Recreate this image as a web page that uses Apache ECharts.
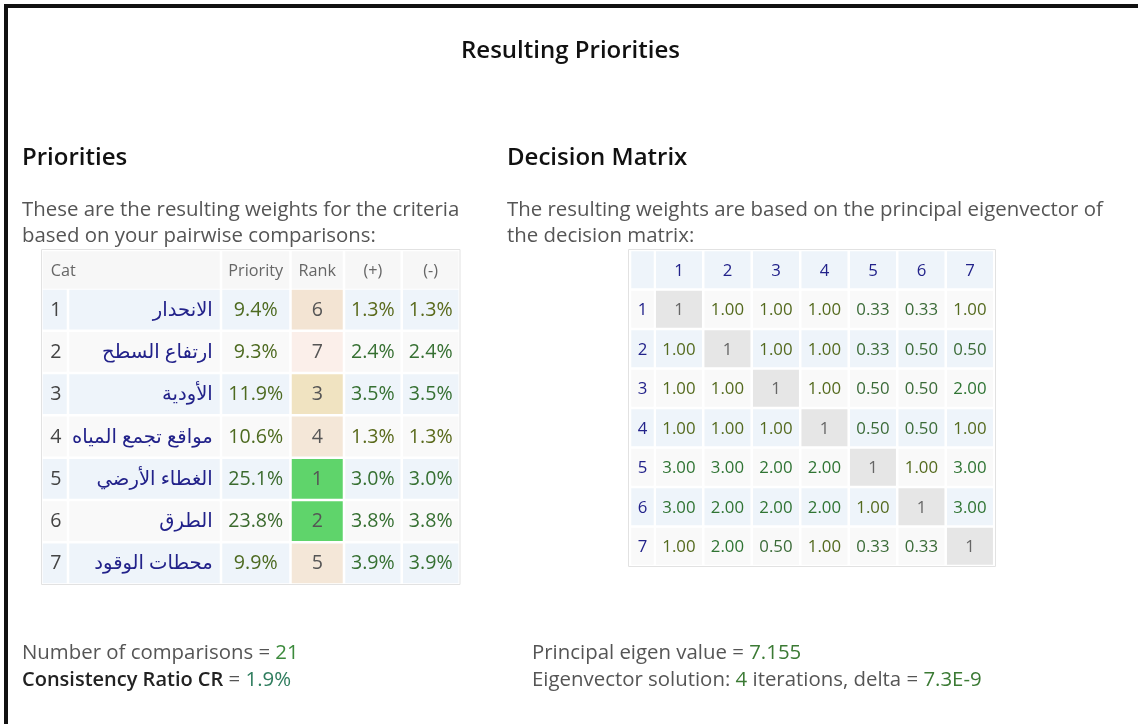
<!DOCTYPE html>
<html><head><meta charset="utf-8">
<script src="https://cdn.jsdelivr.net/npm/echarts@6/dist/echarts.min.js"></script>
<style>html,body{margin:0;padding:0;background:#fff}#c{width:1138px;height:724px}</style>
</head><body><div id="c"></div>
<script>
// ---------------- DATA ----------------
const criteriaIds = ['1', '2', '3', '4', '5', '6', '7'];
const criteriaNames = ['الانحدار', 'ارتفاع السطح', 'الأودية', 'مواقع تجمع المياه', 'الغطاء الأرضي', 'الطرق', 'محطات الوقود'];
const priorities = [9.4, 9.3, 11.9, 10.6, 25.1, 23.8, 9.9];
const ranks = [6, 7, 3, 4, 1, 2, 5];
const plusErr = [1.3, 2.4, 3.5, 1.3, 3.0, 3.8, 3.9];
const minusErr = [1.3, 2.4, 3.5, 1.3, 3.0, 3.8, 3.9];
const priorityHeaders = ['Cat', '', 'Priority', 'Rank', '(+)', '(-)'];
const matrixLabels = ['1', '2', '3', '4', '5', '6', '7'];
const matrixRow1 = [1, 1.00, 1.00, 1.00, 0.33, 0.33, 1.00];
const matrixRow2 = [1.00, 1, 1.00, 1.00, 0.33, 0.50, 0.50];
const matrixRow3 = [1.00, 1.00, 1, 1.00, 0.50, 0.50, 2.00];
const matrixRow4 = [1.00, 1.00, 1.00, 1, 0.50, 0.50, 1.00];
const matrixRow5 = [3.00, 3.00, 2.00, 2.00, 1, 1.00, 3.00];
const matrixRow6 = [3.00, 2.00, 2.00, 2.00, 1.00, 1, 3.00];
const matrixRow7 = [1.00, 2.00, 0.50, 1.00, 0.33, 0.33, 1];
const numComparisons = 21;
const consistencyRatio = 1.9;
const eigenValue = 7.155;
const iterations = 4;
const deltaText = '7.3E-9';

// ---------------- STYLE / LAYOUT ----------------
const FONT = "'Open Sans', 'DejaVu Sans', sans-serif";
const BLUE = '#eef4fa', GRAY = '#f9f9f9', HEAD = '#f7f7f7', DIAG = '#e6e6e6';
const NAVY = '#22228a';
const rankBg = {1: '#5fd46b', 2: '#5fd46b', 3: '#f0e3c1', 4: '#f4e7d8', 5: '#f4e7d8', 6: '#f3e4d3', 7: '#fbefea'};
const pctColor = v => v < 2 ? '#5a6a1c' : '#367032';
const prioColor = v => v < 15 ? '#4d6a20' : '#3b6a2e';
const mColor = v => v >= 2 ? '#2f7433' : (v >= 1 ? '#546a1e' : '#3b6b38');

const leftCols = [
  {left: 41.5, width: 26.5},
  {left: 68, width: 153},
  {left: 221, width: 69.5},
  {left: 290.5, width: 53.5},
  {left: 344, width: 57.7},
  {left: 401.7, width: 58}
];
const LT_HEAD_TOP = 250, LT_HEAD_H = 40;
const LT_BODY_TOP = 288.5, LT_BODY_H = 296;
const M_TOP = 250, M_H = 316;

const grids = [], xAxes = [], yAxes = [], series = [];

function addGrid(left, top, width, height, xData, yData) {
  const i = grids.length;
  grids.push({left, top, width, height, containLabel: false, show: false});
  xAxes.push({type: 'category', gridIndex: i, data: xData, show: false, boundaryGap: true});
  yAxes.push({type: 'category', gridIndex: i, data: yData, show: false, inverse: true, boundaryGap: true});
  return i;
}

function cellSeries(gi, cells, dy) {
  dy = dy || 0;
  series.push({
    type: 'custom', xAxisIndex: gi, yAxisIndex: gi, silent: true, animation: false, clip: false,
    data: cells.map(c => [c.x, c.y]),
    renderItem: (params, api) => {
      const cell = cells[params.dataIndex];
      const p = api.coord([api.value(0), api.value(1)]);
      const s = api.size([1, 1]);
      const g = 1.25;
      const il = cell.il != null ? cell.il : g, ir = cell.ir != null ? cell.ir : g;
      const x0 = p[0] - s[0] / 2 + il, x1 = p[0] + s[0] / 2 - ir;
      const y0 = p[1] - s[1] / 2 + g, y1 = p[1] + s[1] / 2 - g;
      const align = cell.align || 'center';
      const tx = align === 'left' ? x0 + cell.pad : (align === 'right' ? x1 - cell.pad : (x0 + x1) / 2);
      return {type: 'group', children: [
        {type: 'rect', z2: 0, shape: {x: x0, y: y0, width: x1 - x0, height: y1 - y0}, style: {fill: cell.bg}},
        {type: 'text', z2: 100, x: tx, y: p[1] + dy, style: {
          text: cell.text, fill: cell.color, fontSize: cell.size, fontFamily: FONT, fontWeight: cell.weight || 400,
          align: align, verticalAlign: 'middle', textAlign: align, textVerticalAlign: 'middle'
        }}
      ]};
    }
  });
}

// ---- Left table (priorities) ----
const colValues = [
  criteriaIds,
  criteriaNames,
  priorities.map(v => v.toFixed(1) + '%'),
  ranks.map(String),
  plusErr.map(v => v.toFixed(1) + '%'),
  minusErr.map(v => v.toFixed(1) + '%')
];
leftCols.forEach((col, c) => {
  // header cell
  const hg = addGrid(col.left, LT_HEAD_TOP, col.width, LT_HEAD_H, ['c'], ['h']);
  cellSeries(hg, [{x: 0, y: 0, text: priorityHeaders[c], bg: HEAD, color: '#666', size: 16.2,
    align: c === 0 ? 'left' : 'center', pad: 8,
    il: c === 1 ? 0 : undefined, ir: c === 0 ? 0 : undefined}], 1.5);
  // body cells
  const bg = addGrid(col.left, LT_BODY_TOP, col.width, LT_BODY_H, ['c'], criteriaIds);
  const cells = [];
  for (let r = 0; r < criteriaIds.length; r++) {
    const rowBg = r % 2 === 0 ? BLUE : GRAY;
    let cell = {x: 0, y: r, text: colValues[c][r], bg: rowBg, size: 19.6};
    if (c === 0) { cell.color = '#444'; cell.align = 'left'; cell.pad = 7.5; }
    else if (c === 1) { cell.color = NAVY; cell.align = 'right'; cell.pad = 7; cell.size = 19.6; }
    else if (c === 2) { cell.color = prioColor(priorities[r]); }
    else if (c === 3) { cell.color = '#555'; cell.bg = rankBg[ranks[r]]; }
    else if (c === 4) { cell.color = pctColor(plusErr[r]); }
    else { cell.color = pctColor(minusErr[r]); }
    cells.push(cell);
  }
  cellSeries(bg, cells, 0.5);
});

// ---- Decision matrix ----
const matrixRows = [matrixRow1, matrixRow2, matrixRow3, matrixRow4, matrixRow5, matrixRow6, matrixRow7];
const mRowKeys = ['h'].concat(matrixLabels);
// row-label column
{
  const gi = addGrid(630, M_TOP, 25, M_H, ['r'], mRowKeys);
  const cells = [{x: 0, y: 0, text: '', bg: BLUE, color: NAVY, size: 16.8}];
  matrixLabels.forEach((lab, r) => {
    cells.push({x: 0, y: r + 1, text: lab, bg: r % 2 === 0 ? GRAY : BLUE, color: NAVY, size: 16.8});
  });
  cellSeries(gi, cells, 1.2);
}
// value columns
{
  const gi = addGrid(654.7, M_TOP, 339.5, M_H, matrixLabels, mRowKeys);
  const cells = [];
  matrixLabels.forEach((lab, c) => {
    cells.push({x: c, y: 0, text: lab, bg: BLUE, color: NAVY, size: 16.8});
  });
  matrixRows.forEach((row, r) => {
    row.forEach((v, c) => {
      const diag = r === c;
      cells.push({x: c, y: r + 1, text: diag ? String(v) : v.toFixed(2),
        bg: diag ? DIAG : (r % 2 === 0 ? GRAY : BLUE), color: diag ? '#666' : mColor(v), size: 16.8});
    });
  });
  cellSeries(gi, cells, 1.2);
}

// ---------------- DECORATION / TEXT ----------------
const G = '#3b7a34';
const FS = 20.4;
function txt(x, y, text, size, color, weight) {
  return {type: 'text', x: x, y: y, style: {text: text, fill: color, fontSize: size, fontWeight: weight || 400, fontFamily: FONT,
    align: 'left', verticalAlign: 'middle', textAlign: 'left', textVerticalAlign: 'middle'}};
}
function rich(x, y, text, extra) {
  const r = {a: {fill: '#555', fontSize: FS, fontFamily: FONT}, g: {fill: G, fontSize: FS, fontFamily: FONT},
    b: {fill: '#222', fontSize: 20, fontWeight: 600, fontFamily: FONT}};
  Object.assign(r, extra || {});
  return {type: 'text', x: x, y: y, style: {text: text, align: 'left', verticalAlign: 'middle', textAlign: 'left', textVerticalAlign: 'middle', rich: r}};
}
const graphics = [
  {type: 'rect', shape: {x: 4, y: 4, width: 1140, height: 4}, style: {fill: '#111'}, z: 10},
  {type: 'rect', shape: {x: 4, y: 4, width: 4, height: 730}, style: {fill: '#111'}, z: 10},
  {type: 'rect', shape: {x: 41.5, y: 249.5, width: 418.5, height: 335}, style: {fill: 'none', stroke: '#e2e2e2', lineWidth: 1}, z: 10},
  {type: 'rect', shape: {x: 628.5, y: 249.5, width: 367, height: 317}, style: {fill: 'none', stroke: '#e2e2e2', lineWidth: 1}, z: 10},
  {type: 'text', x: 570.5, y: 51, style: {text: 'Resulting Priorities', fill: '#111', fontSize: 24, fontWeight: 600, fontFamily: FONT, align: 'center', verticalAlign: 'middle', textAlign: 'center', textVerticalAlign: 'middle'}},
  txt(22, 158, 'Priorities', 24, '#111', 600),
  txt(507, 158, 'Decision Matrix', 24, '#111', 600),
  txt(22, 210, 'These are the resulting weights for the criteria', FS, '#555'),
  txt(22, 236, 'based on your pairwise comparisons:', FS, '#555'),
  txt(507, 210, 'The resulting weights are based on the principal eigenvector of', FS, '#555'),
  txt(507, 236, 'the decision matrix:', FS, '#555'),
  rich(22, 653, '{a|Number of comparisons = }{g|' + numComparisons + '}', {g: {fill: '#3c8a3c', fontSize: FS, fontFamily: FONT}}),
  rich(22, 680, '{b|Consistency Ratio CR}{a| = }{g|' + consistencyRatio.toFixed(1) + '%}', {g: {fill: '#2f7d5e', fontSize: FS, fontFamily: FONT}}),
  rich(532, 653, '{a|Principal eigen value = }{g|' + eigenValue.toFixed(3) + '}'),
  rich(532, 680, '{a|Eigenvector solution: }{g|' + iterations + '}{a| iterations, delta = }{g|' + deltaText + '}')
];

const chart = echarts.init(document.getElementById('c'), null, {renderer: 'canvas'});
chart.setOption({
  backgroundColor: '#fff',
  animation: false,
  grid: grids,
  xAxis: xAxes,
  yAxis: yAxes,
  series: series,
  graphic: {elements: graphics}
});
</script>
</body></html>
